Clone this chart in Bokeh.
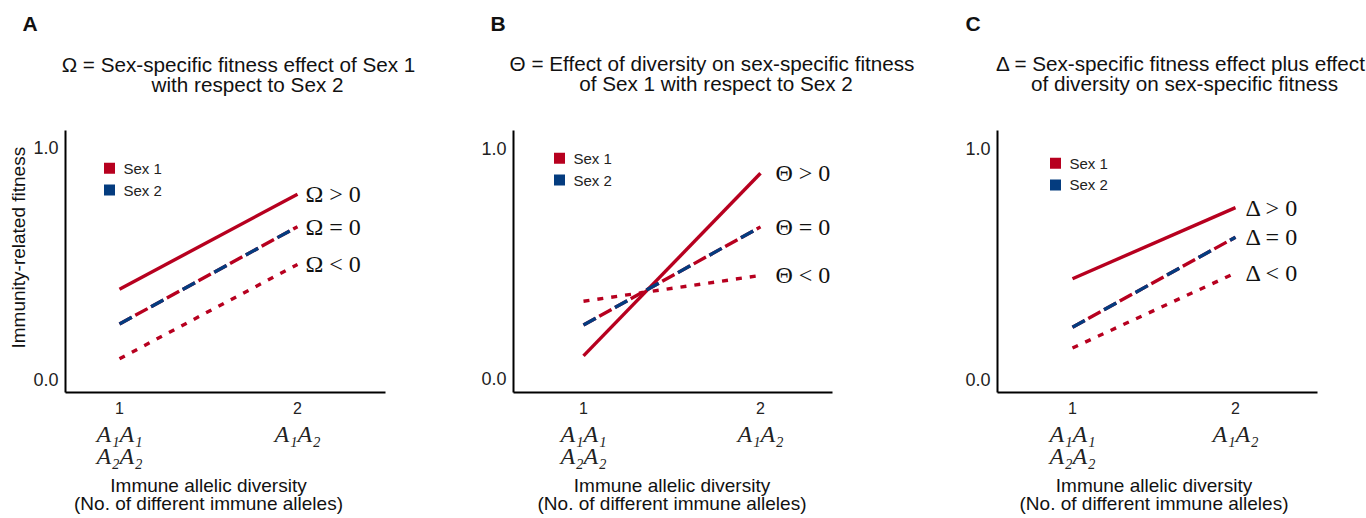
from bokeh.plotting import figure
from bokeh.models import Range1d, FixedTicker, LinearAxis, LabelSet, ColumnDataSource, Title
from bokeh.layouts import row, column
from bokeh.embed import file_html
from bokeh.resources import INLINE
from bokeh.core.properties import value

# ---------------- data ----------------
diversity = [1, 2]
diversity_tick_labels = ["1", "2"]
genotype_tick_labels = ["A\u2081A\u2081\nA\u2082A\u2082", "A\u2081A\u2082"]
fitness_ticks = [0, 1]
fitness_tick_labels = ["0.0", "1.0"]
sexes = ["Sex 1", "Sex 2"]

omega_above = [0.39, 0.80]
omega_equal = [0.24, 0.66]
omega_below = [0.09, 0.497]
theta_above = [0.099, 0.892]
theta_equal = [0.233, 0.659]
theta_below = [0.336, 0.448]
delta_above = [0.435, 0.743]
delta_equal = [0.225, 0.615]
delta_below = [0.135, 0.46]

omega_labels = ["\u03a9 > 0", "\u03a9 = 0", "\u03a9 < 0"]
theta_labels = ["\u0398 > 0", "\u0398 = 0", "\u0398 < 0"]
delta_labels = ["\u0394 > 0", "\u0394 = 0", "\u0394 < 0"]

panel_letters = ["A", "B", "C"]
title_line1 = ["\u03a9 = Sex-specific fitness effect of Sex 1",
               "\u0398 = Effect of diversity on sex-specific fitness",
               "\u0394 = Sex-specific fitness effect plus effect"]
title_line2 = ["with respect to Sex 2",
               "of Sex 1 with respect to Sex 2",
               "of diversity on sex-specific fitness"]
y_title = "Immunity-related fitness"
x_title = ["Immune allelic diversity", "(No. of different immune alleles)"]

# ---------------- style / layout ----------------
RED = "#B7001F"
BLUE = "#043C7F"
INK = "#111111"
SANS = "Liberation Sans"
SERIF = "Liberation Serif"
W = 1366
HH = 110          # header strip height
FT = 474          # footer top
HF = 518 - FT     # footer height


def strip(height, y_top):
    s = figure(width=W, height=height, x_range=Range1d(0, W),
               y_range=Range1d(y_top + height, y_top), title=None,
               x_axis_location=None, y_axis_location=None, min_border=0,
               output_backend="svg", toolbar_location=None)
    s.outline_line_color = None
    s.grid.visible = False
    s.background_fill_color = "white"
    s.border_fill_color = "white"
    return s


def make_panel(geo, fig_left, fig_width, above, equal, below, sym_labels,
               legend_geo, sym_dx, show_ylabel):
    L, R, T, B = geo["left"], geo["right"], geo["top"], geo["bottom"]
    t1, t2, y0, y1 = geo["t1"], geo["t2"], geo["y0"], geo["y1"]
    ppx = t2 - t1
    ppy = y0 - y1

    def dx(px):
        return 1 + (px - t1) / ppx

    def dy(py):
        return (y0 - py) / ppy

    p = figure(width=fig_width, height=FT - HH, x_range=Range1d(dx(L), dx(R)),
               y_range=Range1d(dy(B), dy(T)), title=None,
               output_backend="svg", toolbar_location=None,
               min_border_left=L - fig_left, min_border_right=fig_left + fig_width - R,
               min_border_top=T - HH, min_border_bottom=FT - B)
    p.outline_line_color = None
    p.xgrid.visible = False
    p.ygrid.visible = False
    p.background_fill_color = "white"
    p.border_fill_color = "white"

    # y axis
    ya = p.yaxis[0]
    ya.ticker = FixedTicker(ticks=fitness_ticks)
    ya.major_label_overrides = dict(zip(fitness_ticks, fitness_tick_labels))
    ya.axis_line_color = "black"
    ya.axis_line_width = 2
    ya.major_tick_line_color = None
    ya.minor_tick_line_color = None
    ya.major_label_standoff = 1
    ya.major_label_text_font = SANS
    ya.major_label_text_font_size = "18px"
    ya.major_label_text_color = "#222222"
    if show_ylabel:
        p.add_layout(Title(text=y_title, align="left", offset=B - 350, standoff=4,
                           text_font=SANS, text_font_style="normal",
                           text_font_size="19px", text_color=INK), "left")

    # x axis (numbers)
    xa = p.xaxis[0]
    xa.ticker = FixedTicker(ticks=diversity)
    xa.major_label_overrides = dict(zip(diversity, diversity_tick_labels))
    xa.axis_line_color = "black"
    xa.axis_line_width = 2
    xa.major_tick_line_color = None
    xa.minor_tick_line_color = None
    xa.major_label_standoff = 3
    xa.major_label_text_font = SANS
    xa.major_label_text_font_size = "16px"
    xa.major_label_text_color = "#222222"

    # x axis (genotypes)
    ga = LinearAxis(ticker=FixedTicker(ticks=diversity),
                    major_label_overrides=dict(zip(diversity, genotype_tick_labels)))
    ga.axis_line_color = None
    ga.major_tick_line_color = None
    ga.minor_tick_line_color = None
    ga.major_label_standoff = -2
    ga.major_label_text_font = SERIF
    ga.major_label_text_font_style = "italic"
    ga.major_label_text_font_size = "24px"
    ga.major_label_text_line_height = 0.87
    ga.major_label_text_color = "#222222"
    p.add_layout(ga, "below")

    # lines
    p.line(diversity, above, line_color=RED, line_width=3.4)
    p.line(diversity, equal, line_color=RED, line_width=3.4, line_dash="14 4")
    p.line(diversity, equal, line_color=BLUE, line_width=3.4, line_dash="14 22")
    p.line(diversity, below, line_color=RED, line_width=3.4, line_dash="6 8")

    # symbol labels
    src = ColumnDataSource(dict(x=[2, 2, 2], y=[above[1], equal[1], below[1]], text=sym_labels))
    p.add_layout(LabelSet(x="x", y="y", text="text", source=src, x_offset=sym_dx,
                          text_font=value(SERIF), text_font_size="24px",
                          text_baseline="middle", text_align="left", text_color=INK))

    # legend
    lx, ltx, ly = legend_geo
    p.scatter([dx(lx)] * 2, [dy(v) for v in ly], marker="square", size=11,
              color=[RED, BLUE], line_color=None)
    p.text([dx(ltx)] * 2, [dy(v) for v in ly], text=sexes,
           text_font=value(SANS), text_font_size="15px", text_baseline="middle",
           text_align="left", text_color="#222222")
    return p


geoA = dict(left=65, right=385, top=130, bottom=394, t1=119, t2=297, y0=381, y1=147.5)
geoB = dict(left=513, right=832, top=130, bottom=394, t1=583, t2=760, y0=380, y1=148)
geoC = dict(left=997, right=1317, top=127, bottom=392, t1=1072, t2=1235, y0=378.5, y1=145)

pA = make_panel(geoA, 0, 470, omega_above, omega_equal, omega_below, omega_labels,
                (109, 123, [168, 190]), 8, True)
pB = make_panel(geoB, 470, 480, theta_above, theta_equal, theta_below, theta_labels,
                (559, 573, [158, 180]), 15, False)
pC = make_panel(geoC, 950, 416, delta_above, delta_equal, delta_below, delta_labels,
                (1055, 1069, [160, 182]), 10, False)

# header: panel letters and two-line titles (y = vertical centre of the capitals)
header = strip(HH, 0)
header.text(x=[22, 490, 965], y=[22.5, 22.5, 22.5], text=panel_letters,
            text_font=value(SANS), text_font_style="bold", text_font_size="21px",
            text_align="left", text_baseline="middle", text_color=INK)
header.text(x=[238, 711.5, 1180.5], y=[64, 62.5, 62.5], text=title_line1,
            text_font=value(SANS), text_font_size="20.7px",
            text_align="center", text_baseline="middle", text_color=INK)
header.text(x=[247, 715.5, 1184], y=[84, 82.5, 82.5], text=title_line2,
            text_font=value(SANS), text_font_size="20.7px",
            text_align="center", text_baseline="middle", text_color=INK)

# footer: x-axis titles centred between the two ticks of each panel
footer = strip(HF, FT)
x_centres = [(g["t1"] + g["t2"]) / 2 for g in (geoA, geoB, geoC)]
footer.text(x=x_centres, y=[485] * 3, text=[x_title[0]] * 3,
            text_font=value(SANS), text_font_size="19px",
            text_align="center", text_baseline="middle", text_color=INK)
footer.text(x=x_centres, y=[503] * 3, text=[x_title[1]] * 3,
            text_font=value(SANS), text_font_size="19px",
            text_align="center", text_baseline="middle", text_color=INK)

layout = column(header, row(pA, pB, pC), footer)
open("out.html", "w").write(file_html(layout, INLINE))
